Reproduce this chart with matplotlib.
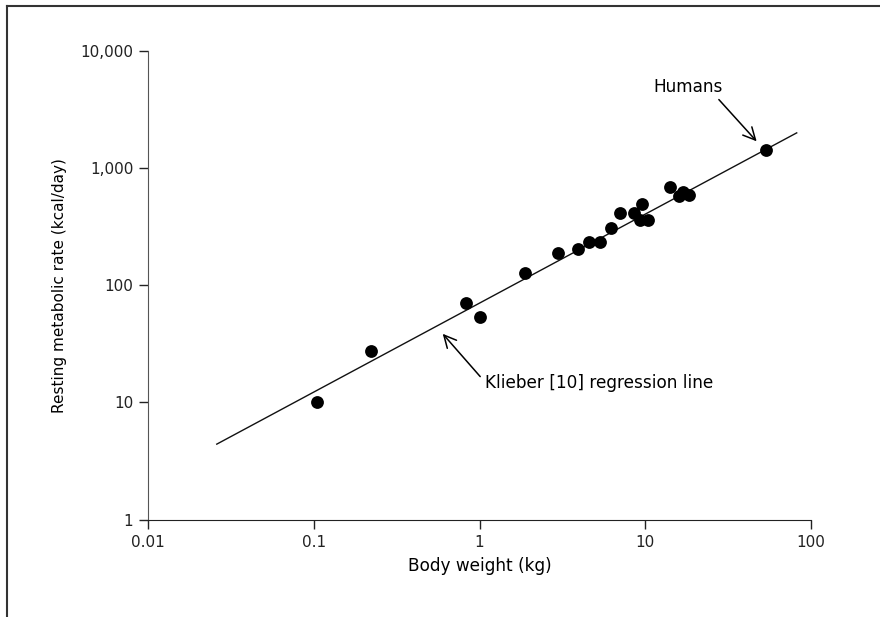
import matplotlib
matplotlib.use("Agg")
import matplotlib.pyplot as plt
from matplotlib.lines import Line2D

# body weight (kg) and resting metabolic rate (kcal/day)
weight = [0.105, 0.222, 0.83, 1.0, 1.88, 2.97, 3.95, 4.6, 5.33, 6.19,
          7.08, 8.56, 9.57, 9.31, 10.4, 14.1, 16.0, 17.0, 18.4, 53.7]
rate = [10, 27.5, 71, 54, 128, 190, 202, 235, 235, 308,
        411, 417, 494, 358, 363, 685, 582, 630, 590, 1440]

# Kleiber regression line end points
line_x = [0.026, 82]
line_y = [4.4, 2000]

xticks = [0.01, 0.1, 1, 10, 100]
xticklabels = ["0.01", "0.1", "1", "10", "100"]
yticks = [1, 10, 100, 1000, 10000]
yticklabels = ["1", "10", "100", "1,000", "10,000"]

plt.rcParams['font.family'] = ['DejaVu Sans']

fig = plt.figure(figsize=(8.8, 6.17), dpi=100)
ax = fig.add_axes([148 / 880, 1 - 519.5 / 617, (811 - 148) / 880, (519.5 - 51) / 617])

ax.plot(line_x, line_y, color='#111111', lw=1.0)
ax.scatter(weight, rate, s=85, color='black', zorder=3, linewidths=0)

ax.set_xscale('log')
ax.set_yscale('log')
ax.set_xlim(0.01, 100)
ax.set_ylim(1, 10000)
ax.set_xticks(xticks)
ax.set_xticklabels(xticklabels)
ax.set_yticks(yticks)
ax.set_yticklabels(yticklabels)
ax.minorticks_off()
ax.tick_params(length=6.5, width=1, labelsize=11, colors='#222222')
ax.tick_params(axis='x', pad=5)
ax.tick_params(axis='y', pad=4)

ax.spines['top'].set_visible(False)
ax.spines['right'].set_visible(False)
ax.spines['left'].set_color('#555555')
ax.spines['bottom'].set_color('#222222')

ax.set_xlabel('Body weight (kg)', fontsize=12.2, labelpad=5)
ax.set_ylabel('Resting metabolic rate (kcal/day)', fontsize=11, labelpad=10)

# annotations
ax.annotate('', xy=(47, 1694), xytext=(27.8, 3850),
            arrowprops=dict(arrowstyle='->', color='black', lw=1.1,
                            mutation_scale=22, shrinkA=0, shrinkB=0))
ax.text(18.1, 4975, 'Humans', fontsize=12.2, ha='center', va='center')

ax.annotate('', xy=(0.60, 38.5), xytext=(1.01, 16.6),
            arrowprops=dict(arrowstyle='->', color='black', lw=1.1,
                            mutation_scale=22, shrinkA=0, shrinkB=0))
ax.text(1.08, 14.7, 'Klieber [10] regression line', fontsize=12.2,
        ha='left', va='center')

# outer frame lines (top and left)
fig.add_artist(Line2D([7 / 880, 7 / 880], [0, 1 - 5.5 / 617],
                      transform=fig.transFigure, color='#333333', lw=1.5))
fig.add_artist(Line2D([7 / 880, 1], [1 - 5.5 / 617, 1 - 5.5 / 617],
                      transform=fig.transFigure, color='#333333', lw=1.5))

fig.savefig('out.png', dpi=100)
